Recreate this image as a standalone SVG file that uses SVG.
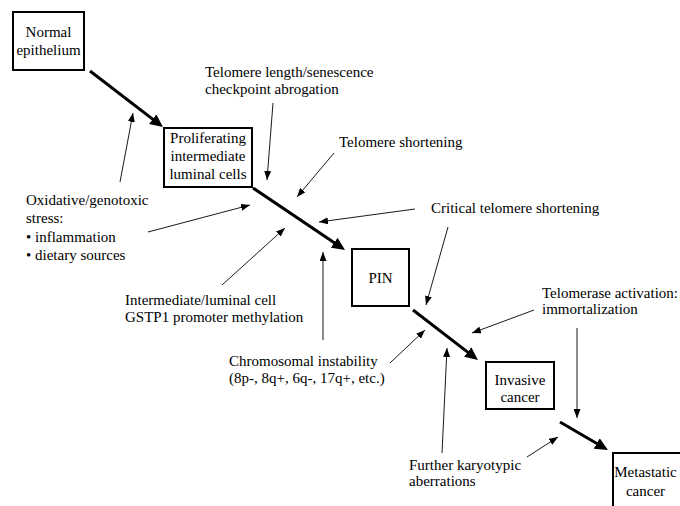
<svg xmlns="http://www.w3.org/2000/svg" width="680" height="506" viewBox="0 0 680 506" font-family="'Liberation Serif', 'Times New Roman', Times, serif" font-size="15">
<defs>
<style>
text{font-family:'Liberation Serif','Times New Roman',Times,serif;font-size:15px;fill:#000}
.c{text-anchor:middle}
.box{fill:#fff;stroke:#000;stroke-width:2}
.bold{stroke:#000;stroke-width:3;fill:none;marker-end:url(#bh)}
.thin{stroke:#000;stroke-width:0.9;fill:none;marker-end:url(#th)}
</style>
<marker id="bh" markerUnits="userSpaceOnUse" markerWidth="14" markerHeight="12" refX="9" refY="6" orient="auto"><path d="M0,0 L13,6 L0,12 Z" fill="#000"/></marker>
<marker id="th" markerUnits="userSpaceOnUse" markerWidth="9" markerHeight="7" refX="9" refY="3.5" orient="auto"><path d="M0,0 L9,3.5 L0,7 Z" fill="#000"/></marker>
</defs>
<rect width="680" height="506" fill="#fff"/>
<g id="connectors">
<line class="bold" x1="90" y1="71" x2="159.8" y2="124.6"/>
<line class="bold" x1="253" y1="188" x2="341.7" y2="247.8"/>
<line class="bold" x1="413" y1="310" x2="474.8" y2="357.6"/>
<line class="bold" x1="560" y1="422" x2="604.5" y2="448"/>
<line class="thin" x1="120" y1="182" x2="133" y2="113"/>
<line class="thin" x1="148" y1="232" x2="250" y2="205"/>
<line class="thin" x1="273" y1="103" x2="267" y2="180"/>
<line class="thin" x1="334" y1="153" x2="297" y2="197"/>
<line class="thin" x1="415" y1="209" x2="319" y2="222"/>
<line class="thin" x1="222" y1="285" x2="285" y2="228"/>
<line class="thin" x1="323" y1="340" x2="323" y2="252"/>
<line class="thin" x1="390" y1="363" x2="425" y2="330"/>
<line class="thin" x1="448" y1="227" x2="426" y2="305"/>
<line class="thin" x1="534" y1="310" x2="472" y2="333"/>
<line class="thin" x1="577" y1="328" x2="577" y2="418"/>
<line class="thin" x1="442" y1="453" x2="447" y2="348"/>
<line class="thin" x1="527" y1="457" x2="558" y2="437"/>
</g>
<g id="normal">
<rect class="box" x="13" y="12" width="71" height="58"/>
<text class="c" x="48.5" y="37">Normal</text>
<text class="c" x="48.5" y="55">epithelium</text>
</g>
<g id="proliferating">
<rect class="box" x="164" y="128" width="88" height="59"/>
<text class="c" x="208" y="143">Proliferating</text>
<text class="c" x="208" y="161">intermediate</text>
<text class="c" x="208" y="179">luminal cells</text>
</g>
<g id="pin">
<rect class="box" x="352" y="249" width="57" height="57"/>
<text class="c" x="380.5" y="283">PIN</text>
</g>
<g id="invasive">
<rect class="box" x="486" y="362" width="68" height="47"/>
<text class="c" x="520" y="385">Invasive</text>
<text class="c" x="520" y="402">cancer</text>
</g>
<g id="metastatic">
<rect class="box" x="613" y="453" width="80" height="70"/>
<text class="c" x="645.5" y="477">Metastatic</text>
<text class="c" x="645.5" y="496">cancer</text>
</g>
<g id="labels">
<text x="205" y="77">Telomere length/senescence</text>
<text x="205" y="94">checkpoint abrogation</text>
<text x="339" y="147">Telomere shortening</text>
<text x="26" y="205">Oxidative/genotoxic</text>
<text x="26" y="223">stress:</text>
<text x="26" y="242">• inflammation</text>
<text x="26" y="260">• dietary sources</text>
<text x="431" y="213">Critical telomere shortening</text>
<text x="125" y="305">Intermediate/luminal cell</text>
<text x="125" y="322">GSTP1 promoter methylation</text>
<text x="542" y="298">Telomerase activation:</text>
<text x="542" y="314">immortalization</text>
<text x="229" y="366">Chromosomal instability</text>
<text x="229" y="383">(8p-, 8q+, 6q-, 17q+, etc.)</text>
<text x="409" y="470">Further karyotypic</text>
<text x="409" y="486">aberrations</text>
</g>
</svg>
